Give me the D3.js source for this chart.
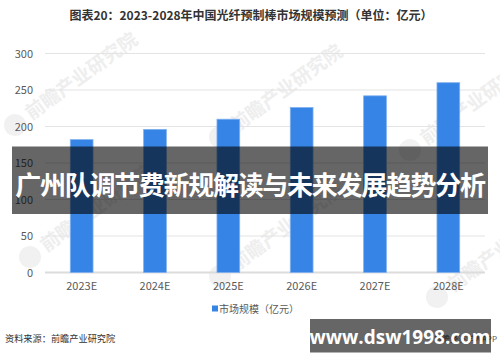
<!DOCTYPE html>
<html>
<head>
<meta charset="utf-8">
<script src="https://cdn.jsdelivr.net/npm/d3@7"></script>
<style>
  body { margin: 0; background: #fff; }
  svg { display: block; font-family: "Microsoft YaHei", "Noto Sans CJK SC", sans-serif; }
</style>
</head>
<body>
<div id="wrapper"></div>
<script>
const categories = ["2023E", "2024E", "2025E", "2026E", "2027E", "2028E"]
const marketSize = [182, 196, 210, 226, 242, 260]
const yTicks = [0, 50, 100, 150, 200, 250, 300]

const titleText = "图表20：2023-2028年中国光纤预制棒市场规模预测（单位：亿元）"
const legendText = "市场规模（亿元）"
const sourceText = "资料来源：前瞻产业研究院"
const bannerText = "广州队调节费新规解读与未来发展趋势分析"
const siteText = "www.dsw1998.com"

let dimensions = {
  width: 500,
  height: 362,
  margins: {
    top: 53.5,
    right: 15,
    bottom: 89.5,
    left: 45,
  }
}
dimensions.boundedWidth = dimensions.width - dimensions.margins.left - dimensions.margins.right
dimensions.boundedHeight = dimensions.height - dimensions.margins.top - dimensions.margins.bottom

const wrapper = d3.select("#wrapper")
  .append("svg")
    .attr("width", dimensions.width)
    .attr("height", dimensions.height)

// faint watermarks
const marks = [[15, 125], [220, 137], [410, 150], [30, 257], [220, 276], [437, 297]]
marks.forEach(([x, y]) => {
  const g = wrapper.append("g")
      .attr("transform", `translate(${x},${y}) rotate(-36)`)
  g.append("circle")
      .attr("r", 11)
      .attr("fill", "#f1f1f1")
  g.append("text")
      .attr("x", 16)
      .attr("y", 6)
      .attr("fill", "#eeeeee")
      .style("font-size", "19px")
      .style("font-weight", "bold")
      .text("前瞻产业研究院")
})

const bounds = wrapper.append("g")
    .attr("transform", `translate(${dimensions.margins.left},${dimensions.margins.top})`)

const yScale = d3.scaleLinear()
  .domain([0, 300])
  .range([dimensions.boundedHeight, 0])

const xScale = d3.scaleBand()
  .domain(categories)
  .range([0, dimensions.boundedWidth])
  .paddingInner(0.69)
  .paddingOuter(0.345)

// gridlines
bounds.append("g")
  .selectAll("line")
  .data(yTicks)
  .join("line")
    .attr("x1", 0)
    .attr("x2", dimensions.boundedWidth)
    .attr("y1", d => yScale(d))
    .attr("y2", d => yScale(d))
    .attr("stroke", d => d === 0 ? "#dcdcdc" : "#e4e4e4")
    .attr("stroke-width", d => d === 0 ? 2 : 1.2)

// y axis labels
const yAxisGenerator = d3.axisLeft(yScale)
  .tickValues(yTicks)
  .tickSize(0)
  .tickPadding(12)
const yAxis = bounds.append("g")
  .call(yAxisGenerator)
yAxis.select(".domain").remove()
yAxis.selectAll("text")
  .attr("fill", "#595959")
  .style("font-size", "11px")
  .style("font-family", "\"Microsoft YaHei\", \"Noto Sans CJK SC\", sans-serif")

// bars
bounds.append("g")
  .selectAll("rect")
  .data(marketSize)
  .join("rect")
    .attr("x", (d, i) => xScale(categories[i]))
    .attr("width", xScale.bandwidth())
    .attr("y", d => yScale(d))
    .attr("height", d => dimensions.boundedHeight - yScale(d))
    .attr("fill", "#3584e6")
    .attr("stroke", "#7fb0ef")
    .attr("stroke-width", 0.8)

// x axis
const xAxisGenerator = d3.axisBottom(xScale)
  .tickSize(0)
  .tickPadding(10)
const xAxis = bounds.append("g")
  .attr("transform", `translate(0,${dimensions.boundedHeight})`)
  .call(xAxisGenerator)
xAxis.select(".domain").remove()
xAxis.selectAll("text")
  .attr("fill", "#595959")
  .style("font-size", "11px")
  .style("font-family", "\"Microsoft YaHei\", \"Noto Sans CJK SC\", sans-serif")

// title
wrapper.append("text")
    .attr("x", 251)
    .attr("y", 20)
    .attr("text-anchor", "middle")
    .attr("fill", "#333")
    .style("font-size", "12px")
    .style("font-weight", "bold")
    .text(titleText)

// legend
wrapper.append("rect")
    .attr("x", 212)
    .attr("y", 305.5)
    .attr("width", 6)
    .attr("height", 6)
    .attr("fill", "#3584e6")
wrapper.append("text")
    .attr("x", 219)
    .attr("y", 312.5)
    .attr("fill", "#595959")
    .style("font-size", "10px")
    .text(legendText)

// source
wrapper.append("text")
    .attr("x", 5)
    .attr("y", 341.5)
    .attr("fill", "#333")
    .style("font-size", "9.2px")
    .text(sourceText)

wrapper.append("text")
    .attr("x", 497)
    .attr("y", 341.5)
    .attr("text-anchor", "end")
    .attr("fill", "#555")
    .style("font-size", "8px")
    .text("前瞻经济学人APP")

// banner overlay
wrapper.append("rect")
    .attr("x", 12)
    .attr("y", 146.5)
    .attr("width", 476)
    .attr("height", 67.5)
    .attr("fill", "rgba(0,0,0,0.6)")
wrapper.append("text")
    .attr("x", 250)
    .attr("y", 195)
    .attr("text-anchor", "middle")
    .attr("fill", "#fff")
    .style("font-size", "26px")
    .style("font-weight", "bold")
    .style("letter-spacing", "-1.3px")
    .text(bannerText)

// site box
wrapper.append("rect")
    .attr("x", 310)
    .attr("y", 319)
    .attr("width", 181)
    .attr("height", 33.5)
    .attr("fill", "rgba(0,0,0,0.6)")
wrapper.append("text")
    .attr("x", 400)
    .attr("y", 343.5)
    .attr("text-anchor", "middle")
    .attr("fill", "#fff")
    .style("font-size", "19px")
    .style("font-weight", "bold")
    .style("font-family", "\"Open Sans\", \"Noto Sans\", sans-serif")
    .text(siteText)
</script>
</body>
</html>
